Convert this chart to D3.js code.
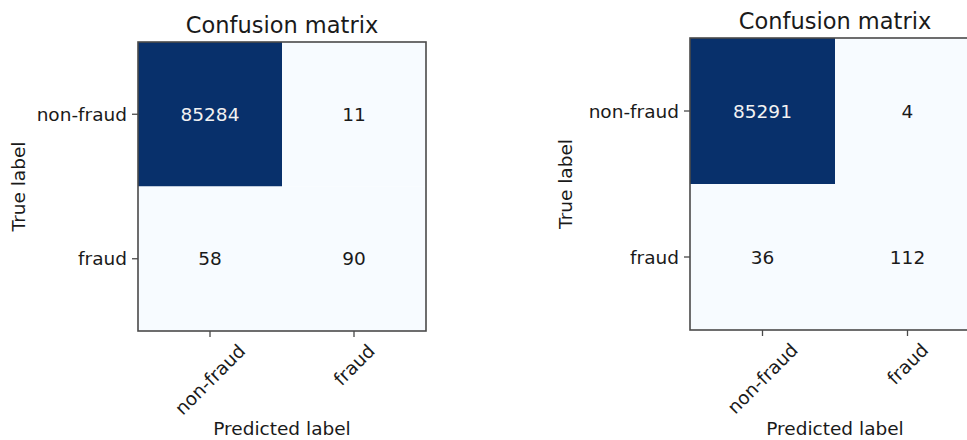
<!DOCTYPE html>
<html>
<head>
<meta charset="utf-8">
<script src="https://cdn.jsdelivr.net/npm/d3@7"></script>
<style>
  html, body { margin: 0; padding: 0; background: #fff; }
  svg { display: block; }
  text { font-family: "DejaVu Sans", sans-serif; fill: #1a1a1a; }
</style>
</head>
<body>
<svg id="chart" width="967" height="440"></svg>
<script>
// Class names shared by both matrices (rows = true label, columns = predicted label)
const classes = ["non-fraud", "fraud"];

// Counts for the two classifiers
const matrixA = [[85284, 11], [58, 90]];
const matrixB = [[85291, 4], [36, 112]];

const titleText = "Confusion matrix";
const xLabelText = "Predicted label";
const yLabelText = "True label";

// Panel geometry
const panels = [
  { data: matrixA, x0: 138, y0: 42, w: 288, h: 289, titleY: 33, yLabelX: 25, xLabelY: 435 },
  { data: matrixB, x0: 690, y0: 38, w: 290, h: 292, titleY: 29, yLabelX: 572, xLabelY: 435 }
];

const svg = d3.select("#chart");
const tickFont = 18.5;

panels.forEach(p => {
  const g = svg.append("g");
  const x = d3.scaleBand().domain(classes).range([p.x0, p.x0 + p.w]);
  const y = d3.scaleBand().domain(classes).range([p.y0, p.y0 + p.h]);
  const maxVal = d3.max(p.data.flat());
  const color = d3.scaleSequential(d3.interpolateBlues).domain([0, maxVal]);
  const thresh = maxVal / 2;

  const cells = [];
  p.data.forEach((row, i) => row.forEach((v, j) => cells.push({ t: classes[i], p: classes[j], v })));

  g.selectAll("rect.cell").data(cells).join("rect")
    .attr("class", "cell")
    .attr("x", d => x(d.p))
    .attr("y", d => y(d.t))
    .attr("width", x.bandwidth())
    .attr("height", y.bandwidth())
    .attr("fill", d => color(d.v));

  g.selectAll("text.val").data(cells).join("text")
    .attr("class", "val")
    .attr("x", d => x(d.p) + x.bandwidth() / 2)
    .attr("y", d => y(d.t) + y.bandwidth() / 2)
    .attr("dy", "0.36em")
    .attr("text-anchor", "middle")
    .style("font-size", tickFont + "px")
    .style("fill", d => d.v > thresh ? "#f2f2f2" : "#1a1a1a")
    .text(d => d.v);

  // Frame
  g.append("rect")
    .attr("x", p.x0).attr("y", p.y0)
    .attr("width", p.w).attr("height", p.h)
    .attr("fill", "none")
    .attr("stroke", "#4a4a4a")
    .attr("stroke-width", 1.6);

  // Left axis
  const yAxis = g.append("g")
    .attr("transform", `translate(${p.x0},0)`)
    .call(d3.axisLeft(y).tickSize(6).tickPadding(5));
  yAxis.select(".domain").remove();
  yAxis.selectAll(".tick line").attr("stroke", "#4a4a4a").attr("stroke-width", 1.3);
  yAxis.selectAll(".tick text")
    .attr("dy", "0.36em")
    .style("font-size", tickFont + "px")
    .style("font-family", "'DejaVu Sans', sans-serif")
    .attr("fill", "#1a1a1a");

  // Bottom axis with labels rotated 45 degrees, centered on the tick
  const xAxis = g.append("g")
    .attr("transform", `translate(0,${p.y0 + p.h})`)
    .call(d3.axisBottom(x).tickSize(6));
  xAxis.select(".domain").remove();
  xAxis.selectAll(".tick line").attr("stroke", "#4a4a4a").attr("stroke-width", 1.3);
  xAxis.selectAll(".tick text")
    .style("font-size", tickFont + "px")
    .style("font-family", "'DejaVu Sans', sans-serif")
    .attr("fill", "#1a1a1a")
    .attr("text-anchor", "middle")
    .attr("dy", "0.36em")
    .each(function () {
      const len = this.getComputedTextLength();
      const off = 16.5 + len / (2 * Math.SQRT2);
      d3.select(this).attr("y", 0).attr("transform", `translate(0,${off}) rotate(-45)`);
    });

  // Title and axis labels
  g.append("text")
    .attr("x", p.x0 + p.w / 2).attr("y", p.titleY)
    .attr("text-anchor", "middle")
    .style("font-size", "22.5px")
    .text(titleText);

  g.append("text")
    .attr("x", p.x0 + p.w / 2).attr("y", p.xLabelY)
    .attr("text-anchor", "middle")
    .style("font-size", tickFont + "px")
    .text(xLabelText);

  g.append("text")
    .attr("transform", `translate(${p.yLabelX},${p.y0 + p.h / 2}) rotate(-90)`)
    .attr("text-anchor", "middle")
    .style("font-size", tickFont + "px")
    .text(yLabelText);
});
</script>
</body>
</html>
